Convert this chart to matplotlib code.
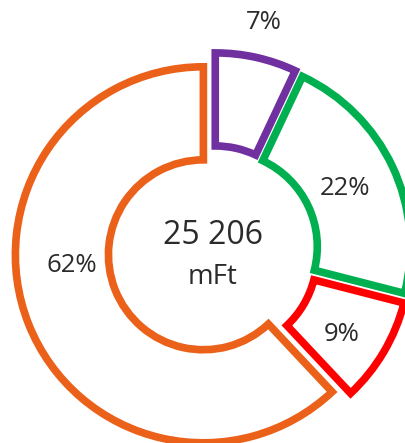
import matplotlib
matplotlib.use("Agg")
import matplotlib.pyplot as plt

# data
labels = ["lila", "zold", "piros", "narancs"]
shares = [7, 22, 9, 62]
colors = ["#7030A0", "#00B050", "#FF0000", "#EB6119"]
total_value = "25 206"
unit = "mFt"

plt.rcParams['font.family'] = ['Open Sans', 'DejaVu Sans']
text_color = "#2b2b2b"

fig = plt.figure(figsize=(4.06, 4.43), dpi=100)
ax = fig.add_axes([0, 0, 1, 1])

wedges, texts, autotexts = ax.pie(
    shares,
    colors=["white"] * len(shares),
    startangle=90,
    counterclock=False,
    explode=[0.055] * len(shares),
    autopct=lambda p: f"{p:.0f}%",
    pctdistance=0.72,
    wedgeprops=dict(width=0.495, linewidth=5.5),
    textprops=dict(fontsize=18.5, color=text_color),
)
for w, c in zip(wedges, colors):
    w.set_edgecolor(c)
    w.set_joinstyle("miter")

# excel-like label placement (not exactly on the bisector)
autotexts[0].set_position((0.27, 1.215))
autotexts[2].set_position((0.685, -0.445))
autotexts[3].set_position((-0.75, -0.075))

ax.text(0, 0.085, total_value, ha="center", va="center", fontsize=23, color=text_color)
ax.text(0, -0.14, unit, ha="center", va="center", fontsize=20, color=text_color)

# one data unit = 188 px, center at (213, 251) px
ax.set_xlim(-213 / 188, (406 - 213) / 188)
ax.set_ylim(-(443 - 251) / 188, 251 / 188)
ax.set_aspect("auto")
ax.axis("off")

fig.savefig("out.png", dpi=100, facecolor="white")
